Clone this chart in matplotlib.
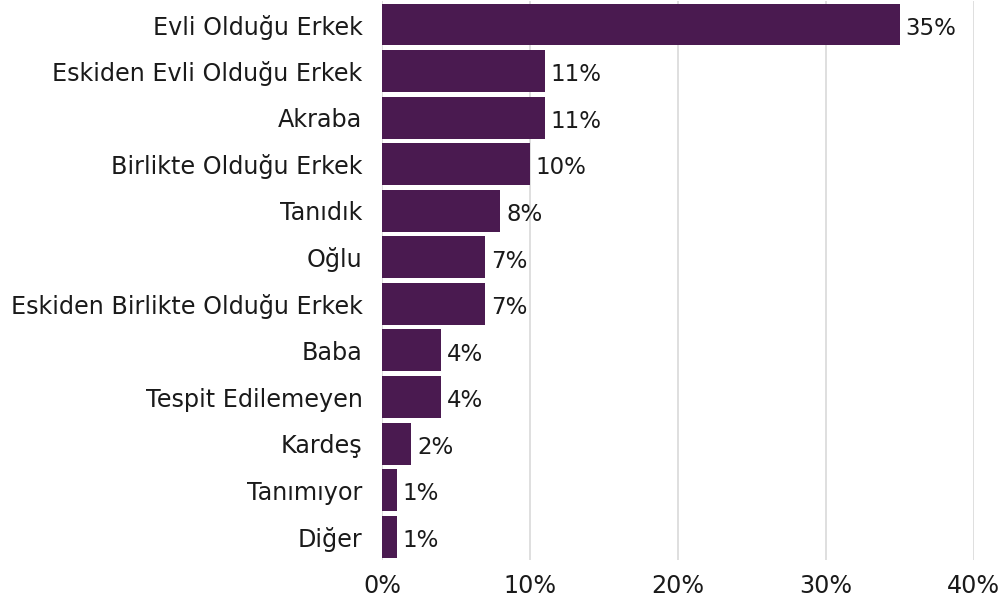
import matplotlib
matplotlib.use("Agg")
import matplotlib.pyplot as plt

categories = [
    "Evli Olduğu Erkek",
    "Eskiden Evli Olduğu Erkek",
    "Akraba",
    "Birlikte Olduğu Erkek",
    "Tanıdık",
    "Oğlu",
    "Eskiden Birlikte Olduğu Erkek",
    "Baba",
    "Tespit Edilemeyen",
    "Kardeş",
    "Tanımıyor",
    "Diğer",
]
values = [35, 11, 11, 10, 8, 7, 7, 4, 4, 2, 1, 1]
xticks = [0, 10, 20, 30, 40]

plt.rcParams["font.family"] = ["DejaVu Sans"]

fig = plt.figure(figsize=(10.05, 6.1), dpi=100)
ax = fig.add_axes([0.380, 0.082, 0.589, 0.916])

ypos = list(range(len(categories)))
ax.barh(ypos, values, height=0.9, color="#4a1a50", zorder=3)

for y, v in zip(ypos, values):
    ax.text(v + 0.4, y + 0.08, f"{v}%", va="center", ha="left",
            fontsize=16.5, color="#1a1a1a")

ax.set_ylim(len(categories) - 0.5, -0.5)
ax.set_xlim(0, 40)
ax.set_yticks(ypos)
ax.set_yticklabels(categories, fontsize=17.2, color="#1a1a1a")
ax.set_xticks(xticks)
ax.set_xticklabels([f"{t}%" for t in xticks], fontsize=17.2, color="#1a1a1a")
ax.tick_params(axis="both", length=0)
ax.tick_params(axis="y", pad=14)
ax.tick_params(axis="x", pad=10)
ax.xaxis.grid(True, color="#d9d9d9", linewidth=1.2, zorder=0)
for s in ax.spines.values():
    s.set_visible(False)

fig.savefig("out.png", dpi=100)
